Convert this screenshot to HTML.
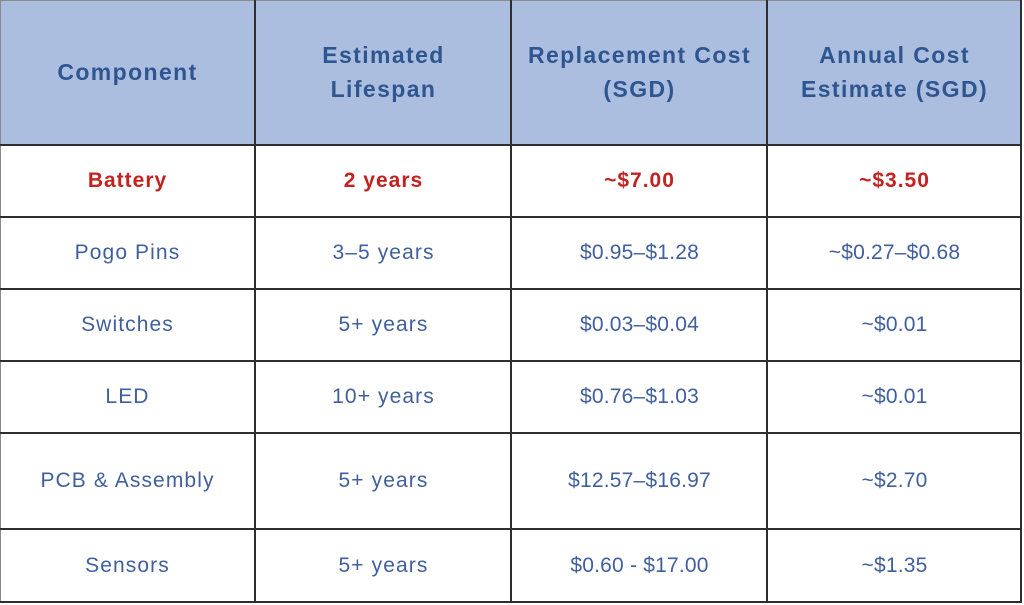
<!DOCTYPE html>
<html><head><meta charset="utf-8"><style>
html,body{margin:0;padding:0;background:#fff;}
#w{position:relative;width:1024px;height:605px;overflow:hidden;background:#fff;font-family:"Liberation Sans",sans-serif;}
.hd{position:absolute;top:0;height:145px;background:#acbedf;}
.c{position:absolute;display:flex;align-items:center;justify-content:center;text-align:center;}
.h{color:#2f5590;font-weight:bold;font-size:23px;letter-spacing:1.4px;line-height:34px;}
.b{color:#3f5f9d;font-size:21px;letter-spacing:1.1px;}
.n{letter-spacing:0.2px;}
.r{color:#c4211f;font-weight:bold;font-size:21px;letter-spacing:1px;}
.v{position:absolute;top:0;width:2px;height:603px;background:#2e2e2e;}
.hl{position:absolute;left:0;width:1022px;height:2px;background:#2e2e2e;}
</style></head><body><div id="w">
<div class="hd" style="left:0;width:1022px;"></div>
<div style="position:absolute;left:0;top:0;width:1022px;height:1px;background:#8a8a8a"></div>
<div style="position:absolute;left:0;top:0;width:1px;height:603px;background:#8a8a8a"></div>
<div class="v" style="left:254px"></div>
<div class="v" style="left:510px"></div>
<div class="v" style="left:766px"></div>
<div class="v" style="left:1020px"></div>
<div class="hl" style="top:144px"></div>
<div class="hl" style="top:216px"></div>
<div class="hl" style="top:288px"></div>
<div class="hl" style="top:360px"></div>
<div class="hl" style="top:432px"></div>
<div class="hl" style="top:528px"></div>
<div class="hl" style="top:601px"></div>

<div class="c h" style="left:0;width:255px;top:0;height:144px;">Component</div>
<div class="c h" style="left:256px;width:255px;top:0;height:144px;">Estimated<br>Lifespan</div>
<div class="c h" style="left:512px;width:255px;top:0;height:144px;">Replacement Cost<br>(SGD)</div>
<div class="c h" style="left:768px;width:253px;top:0;height:144px;">Annual Cost<br>Estimate (SGD)</div>

<div class="c r" style="left:0;width:255px;top:146px;height:70px;">Battery</div>
<div class="c r" style="left:256px;width:255px;top:146px;height:70px;">2 years</div>
<div class="c r" style="left:512px;width:255px;top:146px;height:70px;">~$7.00</div>
<div class="c r" style="left:768px;width:253px;top:146px;height:70px;">~$3.50</div>

<div class="c b" style="left:0;width:255px;top:218px;height:70px;">Pogo Pins</div>
<div class="c b" style="left:256px;width:255px;top:218px;height:70px;">3–5 years</div>
<div class="c b n" style="left:512px;width:255px;top:218px;height:70px;">$0.95–$1.28</div>
<div class="c b n" style="left:768px;width:253px;top:218px;height:70px;">~$0.27–$0.68</div>

<div class="c b" style="left:0;width:255px;top:290px;height:70px;">Switches</div>
<div class="c b" style="left:256px;width:255px;top:290px;height:70px;">5+ years</div>
<div class="c b n" style="left:512px;width:255px;top:290px;height:70px;">$0.03–$0.04</div>
<div class="c b n" style="left:768px;width:253px;top:290px;height:70px;">~$0.01</div>

<div class="c b" style="left:0;width:255px;top:362px;height:70px;">LED</div>
<div class="c b" style="left:256px;width:255px;top:362px;height:70px;">10+ years</div>
<div class="c b n" style="left:512px;width:255px;top:362px;height:70px;">$0.76–$1.03</div>
<div class="c b n" style="left:768px;width:253px;top:362px;height:70px;">~$0.01</div>

<div class="c b" style="left:0;width:255px;top:434px;height:94px;">PCB &amp; Assembly</div>
<div class="c b" style="left:256px;width:255px;top:434px;height:94px;">5+ years</div>
<div class="c b n" style="left:512px;width:255px;top:434px;height:94px;">$12.57–$16.97</div>
<div class="c b n" style="left:768px;width:253px;top:434px;height:94px;">~$2.70</div>

<div class="c b" style="left:0;width:255px;top:530px;height:71px;">Sensors</div>
<div class="c b" style="left:256px;width:255px;top:530px;height:71px;">5+ years</div>
<div class="c b n" style="left:512px;width:255px;top:530px;height:71px;">$0.60 - $17.00</div>
<div class="c b n" style="left:768px;width:253px;top:530px;height:71px;">~$1.35</div>
</div></body></html>
